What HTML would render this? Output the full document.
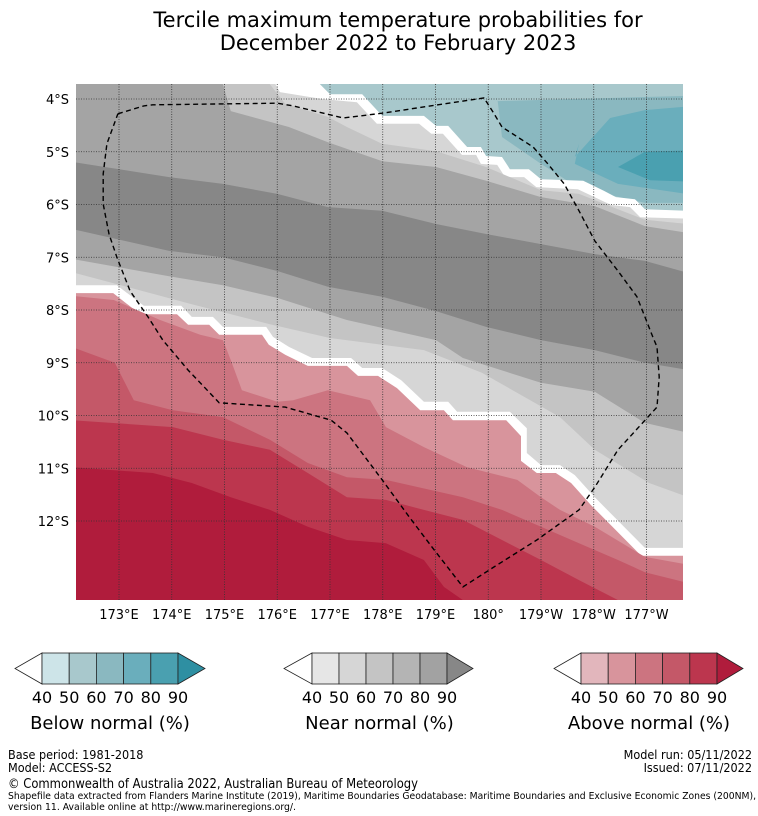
<!DOCTYPE html>
<html><head><meta charset="utf-8"><style>
html,body{margin:0;padding:0;background:#fff;}
svg{display:block;font-family:"DejaVu Sans","Liberation Sans",sans-serif;}
.nar{font-family:"DejaVu Sans Condensed","Liberation Sans Narrow","Liberation Sans",sans-serif;}
</style></head><body>
<svg id="chart" width="758" height="816" viewBox="0 0 758 816">
<text x="398" y="27" font-size="21" text-anchor="middle">Tercile maximum temperature probabilities for</text>
<text x="398" y="50" font-size="21" text-anchor="middle">December 2022 to February 2023</text>
<defs><clipPath id="mapclip"><rect x="76" y="84" width="607" height="516"/></clipPath></defs>
<g id="map" clip-path="url(#mapclip)"></g>
<g id="axes"></g>
<g id="bars"></g>
<g class="nar">
<text x="8" y="759" font-size="12.5">Base period: 1981-2018</text>
<text x="8" y="772" font-size="12.5">Model: ACCESS-S2</text>
<text x="752" y="759" font-size="12.5" text-anchor="end">Model run: 05/11/2022</text>
<text x="752" y="772" font-size="12.5" text-anchor="end">Issued: 07/11/2022</text>
<text x="8" y="788" font-size="13" textLength="410" lengthAdjust="spacingAndGlyphs">© Commonwealth of Australia 2022, Australian Bureau of Meteorology</text>
<text x="8" y="799" font-size="9.5" textLength="748" lengthAdjust="spacingAndGlyphs">Shapefile data extracted from Flanders Marine Institute (2019), Maritime Boundaries Geodatabase: Maritime Boundaries and Exclusive Economic Zones (200NM),</text>
<text x="8" y="810" font-size="9.5" textLength="288" lengthAdjust="spacingAndGlyphs">version 11. Available online at http://www.marineregions.org/.</text>
</g>
</svg>
<script>
// ---- data (lon in degrees east 0-360, lat in degrees south) ----
const lonTicks = [173,174,175,176,177,178,179,180,181,182,183];
const lonTickLabels = ["173°E","174°E","175°E","176°E","177°E","178°E","179°E","180°","179°W","178°W","177°W"];
const latTicks = [4,5,6,7,8,9,10,11,12];
const latTickLabels = ["4°S","5°S","6°S","7°S","8°S","9°S","10°S","11°S","12°S"];

const bandColors = ["#8ab8c0","#a8c8cc","#ffffff","#d6d6d6","#c4c4c4","#a4a4a4","#878787","#a4a4a4","#c4c4c4","#d6d6d6","#ffffff","#d8949c","#cc7480","#c45868","#bc364e","#b01c3c"];
const b60topLon=[172.1,180.03,180.18,183.8];
const b60topLat=[3.6,3.6,4.04,3.94];
const b60botLon=[172.1,180.11,180.18,180.26,181.0,181.72,182.97,183.8];
const b60botLat=[3.6,3.6,4.04,4.72,5.23,5.69,5.97,5.97];
// closed islands (below-normal 70 and 80)
const isl70Lon=[181.72,181.64,182.31,182.97,183.9,183.9,182.46,181.64];
const isl70Lat=[4.85,5.10,4.36,4.21,4.13,5.82,5.61,5.23];
const isl80Lon=[182.46,182.97,183.9,183.9,183.07];
const isl80Lat=[5.29,5.0,4.97,5.57,5.54];
const wAtopLon=[172.1,176.73,176.81,177.0,177.61,177.99,178.78,179.01,179.24,179.60,179.86,179.96,180.26,180.41,180.77,181.0,181.8,182.19,182.42,182.78,182.97,183.8];
const wAtopLat=[3.6,3.6,3.72,3.91,3.91,4.32,4.32,4.51,4.51,4.91,4.91,5.08,5.10,5.33,5.33,5.52,5.55,5.74,5.86,5.90,6.09,6.12];
const wAbotLon=[172.1,175.90,176.05,176.85,177.51,177.89,178.69,178.92,179.14,179.50,179.77,179.86,180.17,180.32,180.68,180.91,181.70,182.10,182.33,182.69,182.88,183.8];
const wAbotLat=[3.6,3.6,3.87,4.0,4.06,4.47,4.47,4.66,4.66,5.06,5.06,5.23,5.25,5.48,5.48,5.67,5.71,5.90,6.01,6.05,6.24,6.27];
const g1Lon=[172.1,175.77,175.86,176.15,176.96,177.32,177.99,179.01,179.96,181.0,181.72,182.46,182.97,183.8];
const g1Lat=[3.6,3.6,3.72,4.09,4.34,4.53,4.85,4.99,5.29,5.73,5.80,6.09,6.29,6.37];
const g2Lon=[172.1,174.8,174.97,175.12,176.22,176.96,177.99,179.01,179.96,181.0,182.02,182.97,183.8];
const g2Lat=[3.6,3.6,3.72,4.23,4.53,4.82,5.18,5.29,5.55,5.86,6.03,6.41,6.54];
const g3Lon=[172.1,173.95,174.97,176.0,176.96,177.99,179.01,179.96,181.0,182.02,182.97,183.8];
const g3Lat=[5.19,5.48,5.61,5.80,6.05,6.12,6.37,6.56,6.75,6.94,7.07,7.30];
const g4Lon=[172.1,173.95,174.97,176.0,176.96,177.99,179.01,179.96,181.0,182.02,182.97,183.8];
const g4Lat=[6.46,6.88,7.0,7.26,7.56,7.75,8.02,8.32,8.57,8.76,9.0,9.14];
const g5Lon=[172.1,173.95,174.97,176.0,177.32,179.01,179.52,181.0,182.02,182.97,183.8];
const g5Lat=[7.03,7.36,7.53,7.77,8.19,8.57,8.91,9.38,9.55,10.14,10.33];
const g6Lon=[172.1,174.38,175.86,177.0,178.78,179.88,181.36,182.02,183.05,183.8];
const g6Lat=[7.28,7.89,8.27,8.53,8.76,9.19,10.03,10.65,11.28,11.55];
const wBtopLon=[172.1,172.96,173.47,174.18,174.38,174.78,174.97,175.79,175.92,176.22,176.66,177.40,177.61,177.99,178.35,178.78,179.24,179.41,180.41,180.73,180.73,181.0,181.36,181.64,182.02,182.97,183.8];
const wBtopLat=[7.53,7.53,7.92,7.92,8.13,8.13,8.32,8.32,8.51,8.70,8.91,8.91,9.10,9.10,9.33,9.74,9.74,9.93,9.93,10.24,10.71,10.94,10.94,11.13,11.55,12.51,12.51];
const wBbotLon=[172.1,172.89,173.40,174.10,174.31,174.71,174.90,175.71,175.84,176.15,176.58,177.32,177.53,177.91,178.27,178.71,179.16,179.33,180.34,180.62,180.62,180.92,181.28,181.57,181.95,182.90,183.8];
const wBbotLat=[7.68,7.68,8.08,8.08,8.28,8.28,8.47,8.47,8.66,8.85,9.06,9.06,9.25,9.25,9.48,9.90,9.90,10.09,10.09,10.39,10.86,11.09,11.09,11.28,11.70,12.66,12.66];
const r1Lon=[172.1,172.9,173.78,174.54,174.97,175.12,175.33,176.0,176.30,176.96,177.76,178.06,178.78,179.60,180.55,181.0,181.36,182.02,182.97,183.8];
const r1Lat=[7.73,7.81,8.19,8.47,8.57,8.95,9.52,9.74,9.71,9.52,9.71,10.22,10.60,10.98,11.22,11.55,11.79,12.11,12.68,12.83];
const r2Lon=[172.1,172.92,173.28,174.02,174.97,175.86,176.58,177.32,178.06,179.52,180.26,181.0,181.72,182.46,182.97,183.8];
const r2Lat=[8.70,9.0,9.71,9.90,10.03,10.46,10.90,11.17,11.22,11.55,11.79,12.11,12.42,12.74,12.97,13.18];
const r3Lon=[172.1,174.02,174.97,175.86,176.58,177.32,178.06,178.78,179.52,180.26,181.0,181.72,182.46,183.8];
const r3Lat=[10.09,10.22,10.46,10.65,11.09,11.55,11.60,11.79,11.98,12.36,12.74,13.12,13.50,13.78];
const r4Lon=[172.1,173.64,174.38,175.12,175.86,176.58,177.32,178.06,178.78,179.16,179.52,180.2];
const r4Lat=[10.98,11.09,11.28,11.55,11.79,12.11,12.36,12.42,12.74,13.25,13.50,13.9];

const eezLon=[172.98,173.47,173.64,176.0,176.30,177.25,177.99,179.92,180.11,180.26,180.85,181.13,181.44,181.72,182.02,182.46,182.82,183.12,183.20,183.24,183.20,182.46,182.02,181.72,180.92,180.11,179.52,178.93,178.50,177.99,177.32,177.02,176.15,174.90,174.31,173.83,173.55,173.21,172.96,172.81,172.70,172.70,172.77,172.98];
const eezLat=[4.28,4.13,4.11,4.08,4.13,4.36,4.27,3.98,4.28,4.53,4.91,5.23,5.61,6.12,6.69,7.26,7.75,8.51,8.70,9.27,9.84,10.65,11.36,11.79,12.36,12.87,13.25,12.49,11.92,11.22,10.33,10.09,9.84,9.76,9.14,8.57,8.13,7.64,7.0,6.56,5.99,5.42,4.85,4.28];

// ---- axis functions ----
const X = lon => 119 + (lon - 173) * 52.75;
const Y = lat => 99 + (lat - 4) * 52.75;
const NS = "http://www.w3.org/2000/svg";
const map = document.getElementById('map');
const axes = document.getElementById('axes');

const boundaries = [
 ["band-below-60",b60topLon,b60topLat],["band-below-50",b60botLon,b60botLat],
 ["band-neutral-upper",wAtopLon,wAtopLat],["band-near-50-upper",wAbotLon,wAbotLat],["band-near-60-upper",g1Lon,g1Lat],
 ["band-near-70-upper",g2Lon,g2Lat],["band-near-80",g3Lon,g3Lat],["band-near-70-lower",g4Lon,g4Lat],
 ["band-near-60-lower",g5Lon,g5Lat],["band-near-50-lower",g6Lon,g6Lat],["band-neutral-lower",wBtopLon,wBtopLat],
 ["band-above-50",wBbotLon,wBbotLat],["band-above-60",r1Lon,r1Lat],["band-above-70",r2Lon,r2Lat],
 ["band-above-80",r3Lon,r3Lat],["band-above-90",r4Lon,r4Lat]];

let bg = document.createElementNS(NS,'rect');
bg.setAttribute('x',76);bg.setAttribute('y',84);bg.setAttribute('width',607);bg.setAttribute('height',516);bg.setAttribute('fill','#a8c8cc');


map.appendChild(bg);

function fillBelow(name, lons, lats, color){
  let pts = lons.map((lo,j)=>X(lo).toFixed(1)+','+Y(lats[j]).toFixed(1));
  pts.push(X(lons[lons.length-1]).toFixed(1)+','+Y(14.5).toFixed(1));
  pts.push(X(lons[0]).toFixed(1)+','+Y(14.5).toFixed(1));
  const p=document.createElementNS(NS,'polygon');
  p.setAttribute('points',pts.join(' '));
  p.setAttribute('fill',color);
  
  
  map.appendChild(p);
}
function island(name, lons, lats, color){
  const p=document.createElementNS(NS,'polygon');
  p.setAttribute('points',lons.map((lo,j)=>X(lo).toFixed(1)+','+Y(lats[j]).toFixed(1)).join(' '));
  p.setAttribute('fill',color);
  
  
  map.appendChild(p);
}
fillBelow(boundaries[0][0],boundaries[0][1],boundaries[0][2],bandColors[0]);
fillBelow(boundaries[1][0],boundaries[1][1],boundaries[1][2],bandColors[1]);
island('band-below-70-island',isl70Lon,isl70Lat,'#6aaebc');
island('band-below-80-island',isl80Lon,isl80Lat,'#4aa0b0');
for(let i=2;i<boundaries.length;i++) fillBelow(boundaries[i][0],boundaries[i][1],boundaries[i][2],bandColors[i]);

// grid
lonTicks.forEach((lo,i)=>{
  const l=document.createElementNS(NS,'line');
  l.setAttribute('x1',X(lo));l.setAttribute('x2',X(lo));l.setAttribute('y1',84);l.setAttribute('y2',600);
  l.setAttribute('stroke','#333');l.setAttribute('stroke-width','0.8');l.setAttribute('stroke-dasharray','1,1.5');
  
  
  map.appendChild(l);
  const t=document.createElementNS(NS,'text');
  t.setAttribute('x',X(lo));t.setAttribute('y',619);t.setAttribute('font-size','13');t.setAttribute('text-anchor','middle');
  t.textContent=lonTickLabels[i];
  
  
  axes.appendChild(t);
});
latTicks.forEach((la,i)=>{
  const l=document.createElementNS(NS,'line');
  l.setAttribute('y1',Y(la));l.setAttribute('y2',Y(la));l.setAttribute('x1',76);l.setAttribute('x2',683);
  l.setAttribute('stroke','#333');l.setAttribute('stroke-width','0.8');l.setAttribute('stroke-dasharray','1,1.5');
  
  
  map.appendChild(l);
  const t=document.createElementNS(NS,'text');
  t.setAttribute('x',69);t.setAttribute('y',Y(la)+5);t.setAttribute('font-size','13');t.setAttribute('text-anchor','end');
  t.textContent=latTickLabels[i];
  
  
  axes.appendChild(t);
});

// EEZ dashed boundary
const eez=document.createElementNS(NS,'polyline');
eez.setAttribute('points',eezLon.map((lo,j)=>X(lo).toFixed(1)+','+Y(eezLat[j]).toFixed(1)).join(' '));
eez.setAttribute('fill','none');eez.setAttribute('stroke','#000');eez.setAttribute('stroke-width','1.4');eez.setAttribute('stroke-dasharray','5,3.5');


map.appendChild(eez);

// colorbars
const barTicks=["40","50","60","70","80","90"];
const barDefs=[
 {name:"below",x0:15,x1:42,x2:178,x3:205,cols:["#cde4e8","#a8c8cc","#8ab8c0","#6aaebc","#4aa0b0"],arrow:"#2e8fa2",label:"Below normal (%)"},
 {name:"near",x0:284,x1:312,x2:447,x3:473,cols:["#e6e6e6","#d6d6d6","#c4c4c4","#b4b4b4","#a2a2a2"],arrow:"#878787",label:"Near normal (%)"},
 {name:"above",x0:554,x1:581,x2:717,x3:743,cols:["#e2b6bc","#d8949c","#cc7480","#c45868","#bc364e"],arrow:"#b01c3c",label:"Above normal (%)"}];
const bars=document.getElementById('bars');
barDefs.forEach(d=>{
  const g=document.createElementNS(NS,'g');
  
  
  const y0=653,y1=684,ym=668.5,w=(d.x2-d.x1)/5;
  let s=`<polygon points="${d.x1},${y0} ${d.x0},${ym} ${d.x1},${y1}" fill="#fff" stroke="#222" stroke-width="0.8"/>`;
  d.cols.forEach((c,i)=>{s+=`<rect x="${d.x1+i*w}" y="${y0}" width="${w}" height="${y1-y0}" fill="${c}" stroke="#222" stroke-width="0.8"/>`;});
  s+=`<polygon points="${d.x2},${y0} ${d.x3},${ym} ${d.x2},${y1}" fill="${d.arrow}" stroke="#222" stroke-width="0.8"/>`;
  barTicks.forEach((t,i)=>{s+=`<text x="${d.x1+i*w}" y="703" font-size="16" text-anchor="middle">${t}</text>`;});
  s+=`<text x="${(d.x1+d.x2)/2}" y="729" font-size="18" text-anchor="middle">${d.label}</text>`;
  g.innerHTML=s;
  bars.appendChild(g);
});
</script>
</body></html>
